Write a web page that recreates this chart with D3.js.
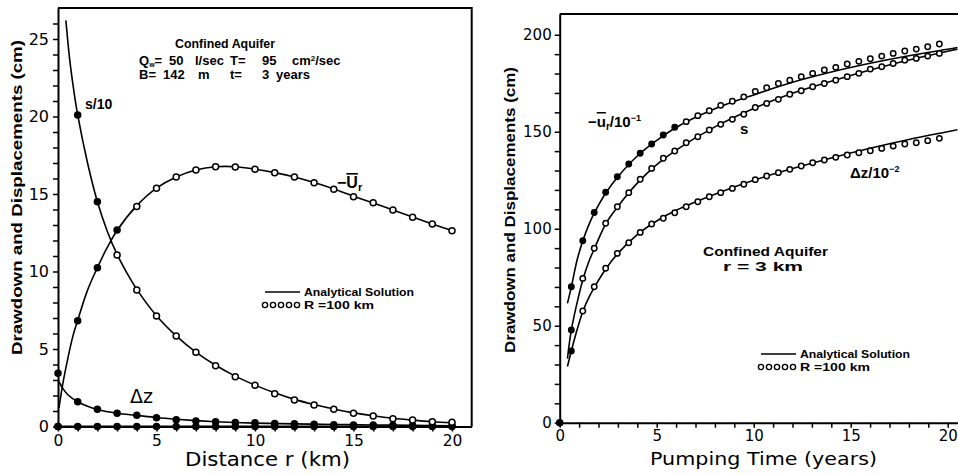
<!DOCTYPE html>
<html>
<head>
<meta charset="utf-8">
<script src="https://cdn.jsdelivr.net/npm/d3@7"></script>
<style>
  body { margin: 0; background: #fff; }
  svg { display: block; }
  .tick text { font-family: "DejaVu Sans", sans-serif; }
  .ann { font-family: "Liberation Sans", Arial, sans-serif; font-weight: bold; fill: #000; }
  .ttl { font-family: "DejaVu Sans", sans-serif; fill: #000; }
</style>
</head>
<body>
<div id="chart"></div>
<script>
(function(){

        // ---- left panel: profiles against distance r (km), t = 3 years ----
        const distMarks = [0, 1, 2, 3, 4, 5, 6, 7, 8, 9, 10, 11, 12, 13, 14, 15, 16, 17, 18, 19, 20];
        const sMarks = [null, 20.1, 14.5, 11.06, 8.8, 7.13, 5.84, 4.79, 3.92, 3.21, 2.66, 2.12, 1.71, 1.39, 1.11, 0.85, 0.68, 0.5, 0.42, 0.31, 0.27];
        const urMarks = [0, 6.83, 10.25, 12.68, 14.2, 15.37, 16.1, 16.55, 16.76, 16.74, 16.6, 16.37, 16.1, 15.73, 15.3, 14.83, 14.44, 13.97, 13.5, 13.06, 12.63];
        const dzMarks = [3.43, 1.6, 1.11, 0.85, 0.72, 0.57, 0.44, 0.36, 0.3, 0.26, 0.24, 0.2, 0.17, 0.14, 0.12, 0.1, 0.09, 0.08, 0.07, 0.06, 0.05];
        const baseMarks = [0, 0, 0, 0, 0, 0, 0, 0, 0, 0, 0, 0, 0, 0, 0, 0, 0, 0, 0, 0, 0];

        const sLineX = [0.4, 0.6, 0.8, 1, 1.5, 2, 2.5, 3, 3.5, 4, 5, 6, 7, 8, 9, 10, 11, 12, 13, 14, 15, 16, 17, 18, 19, 20];
        const sLineY = [26.2, 23.6, 21.7, 20.1, 17.0, 14.5, 12.6, 11.1, 9.9, 8.85, 7.15, 5.85, 4.8, 3.95, 3.25, 2.67, 2.17, 1.75, 1.42, 1.13, 0.88, 0.69, 0.53, 0.41, 0.31, 0.24];
        const urLineX = [0.05, 0.25, 0.5, 0.75, 1, 1.5, 2, 2.5, 3, 4, 5, 6, 7, 8, 9, 10, 11, 12, 13, 14, 15, 16, 17, 18, 19, 20];
        const urLineY = [1.2, 2.8, 4.4, 5.8, 6.85, 8.8, 10.25, 11.55, 12.65, 14.25, 15.38, 16.1, 16.55, 16.76, 16.76, 16.6, 16.38, 16.1, 15.74, 15.32, 14.86, 14.42, 13.97, 13.52, 13.07, 12.64];
        const dzLineX = [0, 0.25, 0.5, 1, 1.5, 2, 3, 4, 5, 6, 7, 8, 9, 10, 12, 14, 16, 18, 20];
        const dzLineY = [3.0, 2.45, 2.05, 1.6, 1.3, 1.1, 0.86, 0.72, 0.58, 0.47, 0.38, 0.31, 0.26, 0.22, 0.17, 0.13, 0.1, 0.07, 0.05];

        // ---- right panel: histories at r = 3 km ----
        const timeMarks = [0.6, 1.19, 1.78, 2.37, 2.97, 3.56, 4.15, 4.74, 5.34, 5.93, 6.52, 7.12, 7.71, 8.30, 8.90, 9.49, 10.08,
                           10.67, 11.27, 11.86, 12.45, 13.04, 13.64, 14.23, 14.82, 15.42, 16.01, 16.60, 17.19, 17.79, 18.38, 18.97, 19.57];
        const urTMarks = [70.1, 93.8, 108.4, 118.8, 126.8, 133.4, 138.9, 143.7, 148.3, 152.3, 155.2, 158.3, 160.8, 163.6, 165.7, 168.0, 170.8,
                          172.7, 174.9, 176.6, 178.4, 180.1, 181.8, 183.2, 184.9, 186.3, 187.6, 189.0, 190.4, 191.6, 192.6, 193.8, 195.2];
        const sTMarks = [47.8, 74.4, 89.9, 102.8, 111.3, 118.6, 125.5, 131.1, 136.3, 140.1, 144.3, 147.4, 150.9, 153.8, 156.4, 159.0, 162.5,
                         164.6, 166.7, 169.3, 171.1, 173.2, 174.9, 176.6, 178.4, 180.1, 182.3, 183.5, 185.2, 186.9, 187.8, 189.0, 190.4];
        const dzTMarks = [37.0, 57.6, 70.1, 79.6, 87.3, 92.8, 98.1, 102.4, 105.4, 108.2, 111.3, 113.9, 116.5, 118.6, 120.8, 122.9, 125.3,
                          127.2, 128.9, 130.6, 132.3, 134.0, 135.4, 136.8, 138.0, 139.2, 140.2, 141.4, 142.6, 143.7, 144.3, 145.4, 146.6];

        const tLineX = [0.4, 0.6, 0.9, 1.2, 1.5, 1.8, 2.4, 3, 4, 5, 6, 8, 10, 12, 14, 16, 18, 20, 20.5];
        const urTLine = [61.5, 70, 84, 94, 102, 108.4, 118.8, 126.8, 137.5, 145.5, 152.2, 161.8, 169, 175.5, 180.8, 185.3, 189.2, 192.5, 193.4];
        const sTLine = [33, 47.8, 62, 74, 83, 90, 103, 111.5, 123.5, 133, 140.5, 152.5, 162, 169.8, 176, 181.8, 187, 191.5, 192.6];
        const dzTLine = [29, 37, 48, 57.6, 64.5, 70, 79.6, 87.3, 97, 104, 109.5, 117.8, 125, 131, 136.5, 141.5, 146, 150, 151];

        const width = 958, height = 475;
        const svg = d3.select("#chart").append("svg")
            .attr("width", width)
            .attr("height", height);

        const line = (sx, sy) => d3.line()
            .x(d => sx(d[0]))
            .y(d => sy(d[1]))
            .curve(d3.curveCatmullRom.alpha(0.5));

        function drawCurve(g, xs, ys, sx, sy) {
            const pts = xs.map((x, i) => [x, ys[i]]);
            g.append("path")
                .attr("d", line(sx, sy)(pts))
                .attr("fill", "none")
                .attr("stroke", "#000")
                .attr("stroke-width", 1.6);
        }

        function drawMarks(g, xs, ys, sx, sy, nFilled, r) {
            const pts = xs.map((x, i) => ({x: x, y: ys[i], i: i})).filter(d => d.y !== null);
            g.selectAll(null)
                .data(pts)
                .enter()
                .append("circle")
                .attr("cx", d => sx(d.x))
                .attr("cy", d => sy(d.y))
                .attr("r", r)
                .attr("fill", d => d.i < nFilled ? "#000" : "#fff")
                .attr("stroke", "#000")
                .attr("stroke-width", 1.5);
        }

        function styleAxis(g, fs) {
            g.select(".domain").attr("stroke-width", 2);
            g.selectAll(".tick line").attr("stroke-width", 1.5);
            g.selectAll(".tick text").attr("font-size", fs).attr("fill", "#000");
        }

        // small helper: a bold word placed at a given x
        function word(g, x, y, txt, fs) {
            return g.append("text").attr("class", "ann")
                .attr("x", x).attr("y", y).attr("font-size", fs || 13)
                .text(txt);
        }

        function legend(g, x, y) {
            g.append("line")
                .attr("x1", x + 3).attr("x2", x + 38)
                .attr("y1", y).attr("y2", y)
                .attr("stroke", "#000").attr("stroke-width", 1.4);
            g.append("text").attr("class", "ann")
                .attr("x", x + 42).attr("y", y + 4)
                .attr("font-size", 10.5)
                .attr("textLength", 110).attr("lengthAdjust", "spacingAndGlyphs")
                .text("Analytical Solution");
            g.selectAll(null)
                .data([0, 1, 2, 3, 4])
                .enter()
                .append("circle")
                .attr("cx", k => x + 3 + k * 8)
                .attr("cy", y + 13)
                .attr("r", 2.6)
                .attr("fill", "none")
                .attr("stroke", "#000")
                .attr("stroke-width", 1.4);
            g.append("text").attr("class", "ann")
                .attr("x", x + 42).attr("y", y + 17)
                .attr("font-size", 10.5)
                .attr("textLength", 70).attr("lengthAdjust", "spacingAndGlyphs")
                .text("R =100 km");
        }

        // ================= LEFT PANEL =================
        const xL = d3.scaleLinear().domain([0, 21]).range([58, 471.7]);
        const yL = d3.scaleLinear().domain([0, 27]).range([426.5, 8]);
        const gL = svg.append("g");

        // frame (top and right)
        gL.append("path")
            .attr("d", `M${xL(0)},${yL(27)}H${xL(21)}V${yL(0)}`)
            .attr("fill", "none").attr("stroke", "#000").attr("stroke-width", 2);

        const axLy = gL.append("g")
            .attr("transform", `translate(${xL(0)},0)`)
            .call(d3.axisLeft(yL).tickValues(d3.range(0, 27)).tickSize(5).tickSizeOuter(0).tickPadding(4)
                .tickFormat(d => d % 5 === 0 ? d : ""));
        styleAxis(axLy, 16);
        const axLx = gL.append("g")
            .attr("transform", `translate(0,${yL(0)})`)
            .call(d3.axisBottom(xL).tickValues(d3.range(0, 21)).tickSize(5).tickSizeOuter(0).tickPadding(3)
                .tickFormat(d => d % 5 === 0 ? d : ""));
        styleAxis(axLx, 15.5);

        drawCurve(gL, sLineX, sLineY, xL, yL);
        drawCurve(gL, urLineX, urLineY, xL, yL);
        drawCurve(gL, dzLineX, dzLineY, xL, yL);
        gL.append("line")
            .attr("x1", xL(0)).attr("x2", xL(20))
            .attr("y1", yL(0)).attr("y2", yL(0))
            .attr("stroke", "#000").attr("stroke-width", 2);

        drawMarks(gL, distMarks, baseMarks, xL, yL, 21, 3);
        drawMarks(gL, distMarks, dzMarks, xL, yL, 21, 3);
        drawMarks(gL, distMarks, sMarks, xL, yL, 3, 3);
        drawMarks(gL, distMarks, urMarks, xL, yL, 4, 3);

        gL.append("text").attr("class", "ttl")
            .attr("x", 185).attr("y", 466)
            .attr("font-size", 19)
            .attr("textLength", 165).attr("lengthAdjust", "spacingAndGlyphs")
            .text("Distance r (km)");
        gL.append("text").attr("class", "ann")
            .attr("transform", "translate(22,355) rotate(-90)")
            .attr("font-size", 15)
            .attr("textLength", 315).attr("lengthAdjust", "spacingAndGlyphs")
            .text("Drawdown and Displacements (cm)");

        // annotations
        gL.append("text").attr("class", "ann")
            .attr("x", 175).attr("y", 48).attr("font-size", 13.5)
            .attr("textLength", 100).attr("lengthAdjust", "spacingAndGlyphs")
            .text("Confined Aquifer");
        const q = word(gL, 139, 65, "Q");
        q.append("tspan").attr("dy", 1.5).attr("font-size", 7).text("w");
        q.append("tspan").attr("dy", -1.5).text("=");
        word(gL, 169, 65, "50");
        word(gL, 195, 65, "l/sec");
        word(gL, 230, 65, "T=");
        word(gL, 262, 65, "95");
        const cm = word(gL, 292, 65, "cm");
        cm.append("tspan").attr("dy", -4).attr("font-size", 8).text("2");
        cm.append("tspan").attr("dy", 4).text("/sec");
        word(gL, 139, 79, "B=");
        word(gL, 163, 79, "142");
        word(gL, 198, 79, "m");
        word(gL, 230, 79, "t=");
        word(gL, 262, 79, "3");
        word(gL, 276, 79, "years");

        gL.append("text").attr("class", "ann")
            .attr("x", 85).attr("y", 109).attr("font-size", 14)
            .text("s/10");
        const ur = gL.append("text").attr("class", "ann").attr("x", 337).attr("y", 188).attr("font-size", 16);
        ur.append("tspan").text("\u2212");
        ur.append("tspan").attr("text-decoration", "overline").text("U");
        ur.append("tspan").attr("dy", 3).attr("font-size", 11).text("r");
        gL.append("text").attr("class", "ttl")
            .attr("x", 130).attr("y", 403).attr("font-size", 19)
            .text("\u0394z");

        legend(gL, 262, 292);

        // ================= RIGHT PANEL =================
        const xR = d3.scaleLinear().domain([0, 20.5]).range([559.7, 957.4]);
        const yR = d3.scaleLinear().domain([0, 210.7]).range([422.7, 14]);
        const gR = svg.append("g");

        gR.append("line")
            .attr("x1", xR(0)).attr("x2", width)
            .attr("y1", yR(210.7)).attr("y2", yR(210.7))
            .attr("stroke", "#000").attr("stroke-width", 2);

        const axRy = gR.append("g")
            .attr("transform", `translate(${xR(0)},0)`)
            .call(d3.axisLeft(yR).tickValues(d3.range(0, 201, 10)).tickSize(5).tickSizeOuter(0).tickPadding(3)
                .tickFormat(d => d % 50 === 0 ? d : ""));
        styleAxis(axRy, 15);
        const axRx = gR.append("g")
            .attr("transform", `translate(0,${yR(0)})`)
            .call(d3.axisBottom(xR).tickValues(d3.range(0, 21)).tickSize(5).tickSizeOuter(0).tickPadding(3)
                .tickFormat(d => d % 5 === 0 ? d : ""));
        styleAxis(axRx, 15);

        drawCurve(gR, tLineX, urTLine, xR, yR);
        drawCurve(gR, tLineX, sTLine, xR, yR);
        drawCurve(gR, tLineX, dzTLine, xR, yR);

        drawMarks(gR, [0], [0], xR, yR, 1, 3);
        drawMarks(gR, timeMarks, urTMarks, xR, yR, 10, 2.7);
        drawMarks(gR, timeMarks, sTMarks, xR, yR, 1, 2.7);
        drawMarks(gR, timeMarks, dzTMarks, xR, yR, 1, 2.7);

        gR.append("text").attr("class", "ttl")
            .attr("x", 650).attr("y", 465)
            .attr("font-size", 18)
            .attr("textLength", 227).attr("lengthAdjust", "spacingAndGlyphs")
            .text("Pumping Time (years)");
        gR.append("text").attr("class", "ann")
            .attr("transform", "translate(515,353) rotate(-90)")
            .attr("font-size", 14)
            .attr("textLength", 286).attr("lengthAdjust", "spacingAndGlyphs")
            .text("Drawdown and Displacements (cm)");

        const ur2 = gR.append("text").attr("class", "ann").attr("x", 588).attr("y", 127).attr("font-size", 15);
        ur2.append("tspan").text("\u2212");
        ur2.append("tspan").attr("text-decoration", "overline").text("u");
        ur2.append("tspan").attr("dy", 3).attr("font-size", 10).text("r");
        ur2.append("tspan").attr("dy", -3).text("/10");
        ur2.append("tspan").attr("dy", -6).attr("font-size", 9).text("\u22121");
        gR.append("text").attr("class", "ann")
            .attr("x", 740).attr("y", 134).attr("font-size", 15)
            .text("s");
        const dz2 = gR.append("text").attr("class", "ann").attr("x", 850).attr("y", 178).attr("font-size", 15);
        dz2.append("tspan").text("\u0394z/10");
        dz2.append("tspan").attr("dy", -6).attr("font-size", 9).text("\u22122");

        gR.append("text").attr("class", "ann")
            .attr("x", 703).attr("y", 256).attr("font-size", 12.5)
            .attr("textLength", 125).attr("lengthAdjust", "spacingAndGlyphs")
            .text("Confined Aquifer");
        gR.append("text").attr("class", "ann")
            .attr("x", 723).attr("y", 271).attr("font-size", 12.5)
            .attr("textLength", 80).attr("lengthAdjust", "spacingAndGlyphs")
            .text("r = 3 km");

        legend(gR, 758, 354);

})();
</script>
</body>
</html>
